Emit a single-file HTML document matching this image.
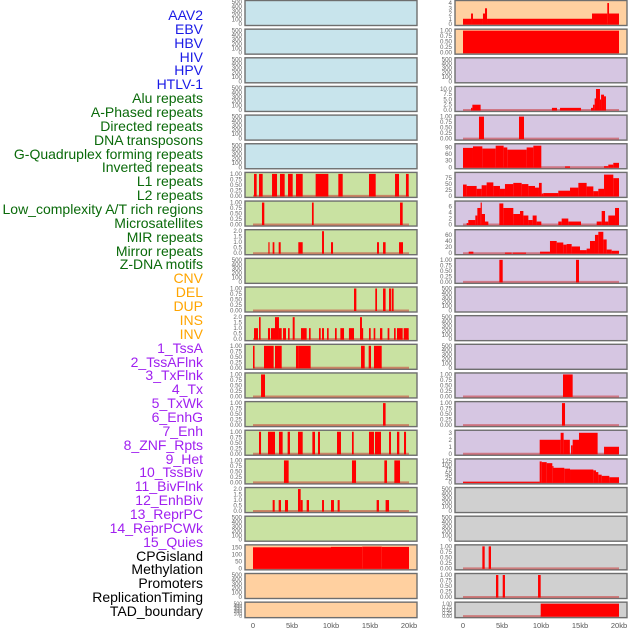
<!DOCTYPE html>
<html><head><meta charset="utf-8">
<style>
body{margin:0;background:#fff;}
#wrap{position:relative;width:630px;height:630px;overflow:hidden;font-family:"Liberation Sans",sans-serif;}
.lab{position:absolute;right:427px;font-size:14px;white-space:nowrap;line-height:14px;}
svg{position:absolute;left:0;top:0;}
</style></head>
<body>
<div id="wrap">
<div id="labels"></div>
<svg id="chart" width="630" height="630"></svg>
</div>
<script>
// ---- data (x in kb, [start, end, value]) ----
const trackLabels = ["AAV2","EBV","HBV","HIV","HPV","HTLV-1","Alu repeats","A-Phased repeats","Directed repeats","DNA transposons","G-Quadruplex forming repeats","Inverted repeats","L1 repeats","L2 repeats","Low_complexity A/T rich regions","Microsatellites","MIR repeats","Mirror repeats","Z-DNA motifs","CNV","DEL","DUP","INS","INV","1_TssA","2_TssAFlnk","3_TxFlnk","4_Tx","5_TxWk","6_EnhG","7_Enh","8_ZNF_Rpts","9_Het","10_TssBiv","11_BivFlnk","12_EnhBiv","13_ReprPC","14_ReprPCWk","15_Quies","CPGisland","Methylation","Promoters","ReplicationTiming","TAD_boundary"];
const labelColors = ["#1a1ae6","#1a1ae6","#1a1ae6","#1a1ae6","#1a1ae6","#1a1ae6","#0a6a0a","#0a6a0a","#0a6a0a","#0a6a0a","#0a6a0a","#0a6a0a","#0a6a0a","#0a6a0a","#0a6a0a","#0a6a0a","#0a6a0a","#0a6a0a","#0a6a0a","#ffa500","#ffa500","#ffa500","#ffa500","#ffa500","#a020f0","#a020f0","#a020f0","#a020f0","#a020f0","#a020f0","#a020f0","#a020f0","#a020f0","#a020f0","#a020f0","#a020f0","#a020f0","#a020f0","#a020f0","#000","#000","#000","#000","#000"];
const xTicks = [0,5,10,15,20];
const xTickLabels = ["0","5kb","10kb","15kb","20kb"];

const L7 = [[0.13,0.47,1],[0.77,1.24,1],[2.44,3.08,1],[3.46,4.06,1],[4.49,5.09,1],[5.51,6.37,1],[8.03,9.66,1],[10.94,11.5,1],[14.87,15.73,1],[18.21,18.72,1],[19.61,19.96,1]];
const L8 = [[1.15,1.45,1],[7.56,7.78,1],[18.85,19.19,1]];
const L9 = [[1.97,2.09,1],[2.52,2.74,1],[3.29,3.55,1],[5.81,6.37,1],[8.85,9.1,2],[10,10.26,1],[15.9,16.15,1],[16.67,17,1],[18.72,19.23,1]];
const L11 = [[12.95,13.25,1],[15.68,15.9,1],[16.67,17,1],[17.44,17.69,1],[17.78,18.03,1]];
const L12 = [[0.13,0.64,1],[0.77,0.98,2],[1.92,2.18,1],[2.3,2.82,1],[2.82,3.33,2],[3.33,3.68,1],[3.85,4.23,1],[4.49,4.7,1],[5.09,5.34,2],[6.15,6.88,1],[7.18,7.39,1],[8.46,8.68,1],[8.85,9.1,1],[9.49,9.7,1],[10.51,10.73,1],[11.2,11.67,1],[12.3,12.95,1],[13.72,13.97,2],[13.97,14.1,1],[14.87,15.09,1],[15.47,15.68,1],[16.28,16.58,1],[17.26,17.48,1],[18.08,18.29,1],[18.46,19.19,1],[19.32,19.96,1]];
const L13 = [[0,0.2,1],[1.41,2.65,1],[2.82,3.68,1],[5.51,5.85,1],[5.85,7.39,1],[13.85,14.32,1],[14.83,15.13,1],[15.51,16.5,1]];
const L14 = [[1.03,1.54,1]];
const L15 = [[16.67,17,1]];
const L16 = [[0.77,1.03,1],[1.92,2.82,1],[3.33,3.8,1],[4.44,4.74,1],[5.77,6.37,1],[7.61,7.95,1],[8.33,8.59,1],[10.77,11.28,1],[12.69,12.91,1],[14.87,15.51,1],[15.64,16.41,1],[17.44,17.69,1],[18.46,18.76,1],[19.36,19.62,1]];
const L17 = [[3.97,4.57,1],[12.69,13.21,1],[16.84,17.18,1],[18.12,18.85,1]];
const L18 = [[2.52,2.78,1],[3.29,3.59,1],[4.1,4.49,1],[5.77,6.11,2],[6.11,6.37,1],[6.88,7.18,1],[8.85,9.1,1],[10,10.38,1],[10.85,11.11,1],[15.85,16.15,1],[17,17.44,1]];
const L20 = [[0,10,153],[10,14,156],[14,16.5,158],[16.5,20,156]];

const R1 = [[0,1.03,1],[1.03,1.28,2],[1.28,2.56,1],[2.56,2.82,2],[2.82,3.08,3],[3.08,16.54,1],[16.54,18.5,2],[18.5,18.72,4],[18.72,20,2]];
const R2 = [[0,20,1]];
const R4 = [[1.03,1.2,1],[1.2,2.26,2.5],[11.4,12.05,1],[12.44,15.13,1],[16.41,16.67,1],[16.67,16.88,2.5],[16.88,17.05,5.5],[17.05,17.56,10],[17.56,17.7,5],[17.7,18.08,7.3],[18.08,18.33,6.5]];
const R5 = [[2.05,2.69,1],[7.18,7.82,1]];
const R6 = [[0,1.28,88],[1.28,2.48,95],[2.48,4.19,85],[4.19,5.21,98],[5.21,5.68,90],[5.68,8.16,80],[8.16,9.02,90],[9.02,10.04,98],[13.08,13.72,4],[18.08,18.63,5],[18.63,19.27,12],[19.27,20,20]];
const R7 = [[0,0.47,48],[0.47,1.75,42],[1.75,2.39,30],[2.39,3.03,45],[3.03,3.89,57],[3.89,4.74,42],[4.74,5.38,30],[5.38,6.45,50],[6.45,7.52,55],[7.52,8.38,50],[8.38,9.23,42],[9.23,9.74,35],[9.74,10.09,55],[10.09,10.3,10],[10.3,12.22,12],[12.22,13.72,22],[13.72,14.79,35],[14.79,15.85,55],[15.85,16.71,40],[16.71,17.35,20],[17.35,18.08,30],[18.08,19.27,90],[19.27,20,75]];
const R8 = [[0.47,0.68,0.5],[0.68,1.58,1.5],[1.58,1.84,3],[1.84,2.26,5.5],[2.26,2.39,7.3],[2.39,2.82,3.5],[2.82,3.25,1],[4.66,5.17,7],[5.17,6.45,5.5],[6.45,7.31,3.5],[7.31,7.74,4.5],[7.74,8.38,3],[8.38,8.93,1.5],[8.93,9.44,3],[9.44,10.04,1],[12.22,12.65,1],[12.65,13.5,2],[13.5,15.13,1],[17.14,17.78,1],[17.78,18.21,4.5],[18.21,18.63,1],[18.63,19.49,3],[19.49,20,5.5]];
const R9 = [[0.73,1.33,5],[5.38,6.24,2],[6.37,8.08,2],[9.87,11.15,5],[11.15,12.01,40],[12.01,12.86,35],[12.86,13.29,28],[13.29,13.93,30],[13.93,15,22],[15,15.85,10],[15.85,16.28,15],[16.28,16.92,40],[16.92,17.35,60],[17.35,17.99,70],[17.99,18.42,45],[18.42,19.06,12],[19.06,20,8]];
const R10 = [[4.66,5.09,1],[14.49,14.87,1]];
const R14 = [[12.82,14.06,1]];
const R15 = [[12.69,13.08,1]];
const R16 = [[9.83,12.52,2],[12.52,12.9,3],[12.9,13.7,2],[13.85,14.06,1.2],[14.06,14.87,2],[14.87,17.26,3],[18.08,20,1]];
const R17 = [[0,9.83,3],[9.83,10.09,122],[10.09,10.73,118],[10.73,11.45,112],[11.45,11.58,95],[11.58,12.99,85],[12.99,13.72,80],[13.72,16.71,75],[16.71,17.05,70],[17.05,17.35,60],[17.35,17.78,45],[17.78,18.76,38],[18.76,20,30]];
const R20 = [[2.48,2.78,1],[3.29,3.59,1]];
const R21 = [[4.23,4.53,1],[5.09,5.38,1],[9.62,9.96,1]];
const R22 = [[9.96,20,1]];

const EMPTY_T = [0,100,200,300,400,500];
const UNIT_T = [0,0.25,0.5,0.75,1];
const TWO_T = [0,0.5,1,1.5,2];

// panel definitions: side, row, bg, ymax, ticks, decimals, data
const BLUE="#c8e4ec", GREEN="#c9e2a2", PEACH="#ffd0a0", LAV="#d6c6e2", GREY="#d0d0d0";
const panels = [
 ["L",0,BLUE,500,EMPTY_T,0,null],["L",1,BLUE,500,EMPTY_T,0,null],["L",2,BLUE,500,EMPTY_T,0,null],
 ["L",3,BLUE,500,EMPTY_T,0,null],["L",4,BLUE,500,EMPTY_T,0,null],["L",5,BLUE,500,EMPTY_T,0,null],
 ["L",6,GREEN,1,UNIT_T,2,L7],["L",7,GREEN,1,UNIT_T,2,L8],["L",8,GREEN,2,TWO_T,1,L9],
 ["L",9,GREEN,500,EMPTY_T,0,null],["L",10,GREEN,1,UNIT_T,2,L11],["L",11,GREEN,2,TWO_T,1,L12],
 ["L",12,GREEN,1,UNIT_T,2,L13],["L",13,GREEN,1,UNIT_T,2,L14],["L",14,GREEN,1,UNIT_T,2,L15],
 ["L",15,GREEN,1,UNIT_T,2,L16],["L",16,GREEN,1,UNIT_T,2,L17],["L",17,GREEN,2,TWO_T,1,L18],
 ["L",18,GREEN,500,EMPTY_T,0,null],["L",19,PEACH,160,[0,50,100,150],0,L20],
 ["L",20,PEACH,500,EMPTY_T,0,null],["L",21,PEACH,500,EMPTY_T,0,null],
 ["R",0,PEACH,4.2,[0,1,2,3,4],0,R1],["R",1,PEACH,1,UNIT_T,2,R2],["R",2,LAV,500,EMPTY_T,0,null],
 ["R",3,LAV,10.5,[0,2.5,5,7.5,10],1,R4],["R",4,LAV,1,UNIT_T,2,R5],["R",5,LAV,100,[0,30,60,90],0,R6],
 ["R",6,LAV,93,[0,25,50,75],0,R7],["R",7,LAV,7.3,[0,2,4,6],0,R8],["R",8,LAV,72,[0,20,40,60],0,R9],
 ["R",9,LAV,1,UNIT_T,2,R10],["R",10,LAV,500,EMPTY_T,0,null],["R",11,LAV,500,EMPTY_T,0,null],
 ["R",12,LAV,500,EMPTY_T,0,null],["R",13,LAV,1,UNIT_T,2,R14],["R",14,LAV,1,UNIT_T,2,R15],
 ["R",15,LAV,3.15,[0,1,2,3],0,R16],["R",16,LAV,128,[0,25,50,75,100,125],0,R17],
 ["R",17,GREY,500,EMPTY_T,0,null],["R",18,GREY,500,EMPTY_T,0,null],
 ["R",19,GREY,1,UNIT_T,2,R20],["R",20,GREY,1,UNIT_T,2,R21],["R",21,GREY,1,UNIT_T,2,R22]
];

// labels
const labDiv=document.getElementById('labels');
trackLabels.forEach((t,i)=>{
  const d=document.createElement('div');
  d.className='lab';
  d.textContent=t;
  d.style.color=labelColors[i];
  d.style.top=(8+i*13.86)+'px';
  
  
  labDiv.appendChild(d);
});

const NS="http://www.w3.org/2000/svg";
const svg=document.getElementById('chart');
function mk(tag,attrs,parent){const e=document.createElementNS(NS,tag);for(const k in attrs)e.setAttribute(k,attrs[k]);(parent||svg).appendChild(e);return e;}
const panelX={L:245,R:455}, PW=172;
function rowTop(r){return 0.5+28.65*r;}
function rowH(r){return r===21?15.5:25;}
function xScale(side,kb){return panelX[side]+8+kb*7.8;}

panels.forEach(p=>{
  const [side,row,bg,ymax,ticks,dec,data]=p;
  const top=rowTop(row), h=rowH(row), x0=panelX[side];
  const g=mk('g',{});
  
  
  const bgR=mk('rect',{x:x0,y:top,width:PW,height:h,fill:bg,stroke:'#6e6e6e','stroke-width':1.4},g);
  
  
  const y0=top+h-1.5, span=h-3;
  const yScale=v=>y0-(v/ymax)*span;
  ticks.forEach(t=>{
    const tx=mk('text',{x:x0-3,y:yScale(t)+2,'font-size':h<20?5:6.2,fill:'#666','text-anchor':'end','font-family':'Liberation Sans, sans-serif'},g);
    tx.textContent=t.toFixed(dec);
    
    
  });
  if(data){
    const bl=mk('line',{x1:xScale(side,0),x2:xScale(side,20),y1:y0,y2:y0,stroke:'rgba(200,40,40,0.5)','stroke-width':2},g);
    
    
    data.forEach(s=>{
      const xa=xScale(side,s[0]), xb=xScale(side,s[1]), yv=yScale(s[2]);
      const r=mk('rect',{x:xa,y:yv,width:Math.max(xb-xa,1.2),height:y0-yv+0.5,fill:'#ff0000'},g);
      
      
    });
  }
});

['L','R'].forEach(side=>{
  xTicks.forEach((t,i)=>{
    const tx=mk('text',{x:xScale(side,t),y:628,'font-size':7.5,fill:'#555','text-anchor':'middle','font-family':'Liberation Sans, sans-serif'});
    tx.textContent=xTickLabels[i];
    
    
  });
});
</script>
</body></html>
